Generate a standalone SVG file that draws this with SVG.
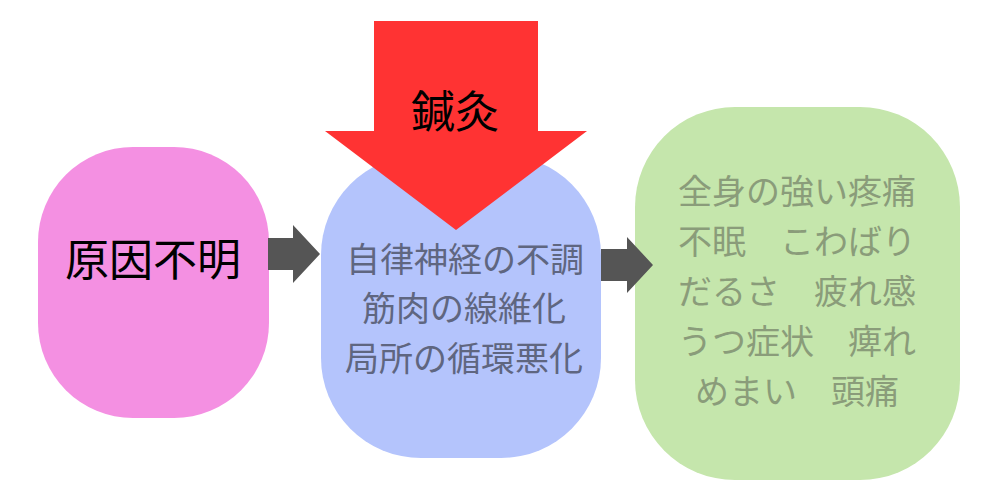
<svg xmlns="http://www.w3.org/2000/svg" width="1000" height="500" viewBox="0 0 1000 500">
<style>
.t{font-family:"Noto Sans CJK JP","Noto Sans CJK SC",sans-serif;text-anchor:middle}
.big{font-size:44px;fill:#000}
.blue{font-size:34px;fill:#5f6680}
.green{font-size:34px;fill:#8a9c7a}
.conn{fill:#555555}
</style>
<rect width="1000" height="500" fill="#ffffff"/>
<g id="node-cause">
<rect x="38" y="147" width="231" height="271" rx="95" ry="95" fill="#f490e2"/>
<text class="t big" x="153" y="276">原因不明</text>
</g>
<g id="node-mechanism">
<rect x="321" y="155" width="280" height="303" rx="100" ry="100" fill="#b4c4fc"/>
<text class="t blue" x="465" y="272">自律神経の不調</text>
<text class="t blue" x="464" y="321">筋肉の線維化</text>
<text class="t blue" x="464" y="371">局所の循環悪化</text>
</g>
<g id="node-symptoms">
<rect x="635" y="107" width="325" height="373" rx="100" ry="100" fill="#c5e6ac"/>
<text class="t green" x="797" y="204">全身の強い疼痛</text>
<text class="t green" x="797" y="254">不眠　こわばり</text>
<text class="t green" x="797" y="304">だるさ　疲れ感</text>
<text class="t green" x="797" y="354">うつ症状　痺れ</text>
<text class="t green" x="797" y="404">めまい　頭痛</text>
</g>
<g id="connectors">
<polygon class="conn" points="268,238 293,238 293,225 320,254 293,283 293,270 268,270"/>
<polygon class="conn" points="601,249 627,249 627,237 653,265 627,293 627,281 601,281"/>
</g>
<g id="node-acupuncture">
<polygon points="374,21 538,21 538,131 587,131 456,230 325,131 374,131" fill="#ff3333"/>
<text class="t big" x="455" y="128">鍼灸</text>
</g>
</svg>
